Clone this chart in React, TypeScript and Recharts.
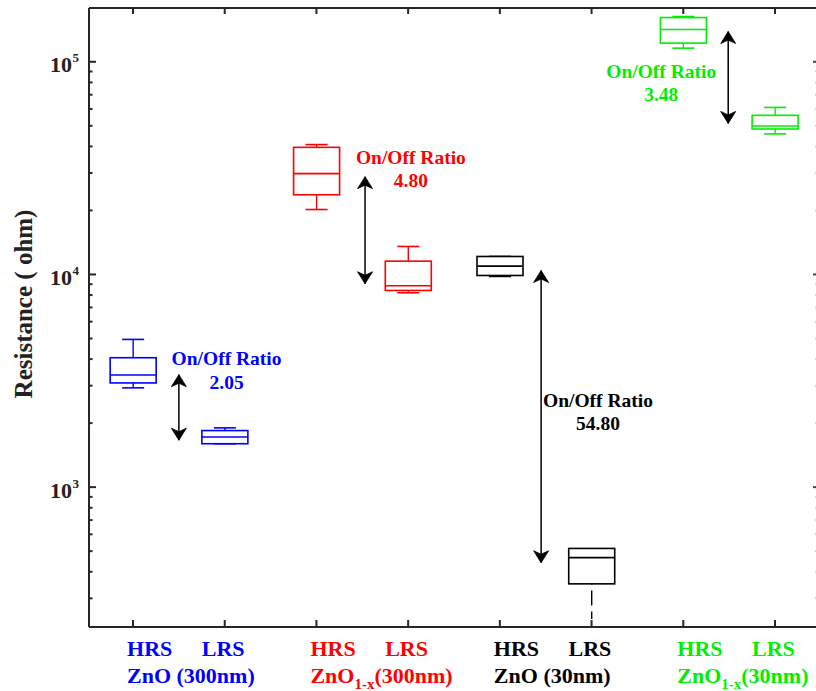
import React from 'react';
import { ComposedChart, Bar, Scatter, Line, XAxis, YAxis } from 'recharts';

// ---- data ----
const CATEGORIES = ['HRS', 'LRS', 'HRS', 'LRS', 'HRS', 'LRS', 'HRS', 'LRS'];
const GROUP_BASE = ['ZnO', 'ZnO', 'ZnO', 'ZnO'];
const GROUP_SUB = ['', '1-x', '', '1-x'];
const GROUP_TAIL = [' (300nm)', '(300nm)', ' (30nm)', '(30nm)'];

const WHISKER_MIN = [2930, 1600, 20200, 8200, 9790, 240, 115900, 45800];
const Q1 = [3090, 1600, 23700, 8410, 9890, 351, 122400, 48300];
const MEDIAN = [3370, 1720, 29800, 8850, 10940, 466, 141800, 49900];
const Q3 = [4060, 1845, 39600, 11550, 12150, 515, 161400, 56000];
const WHISKER_MAX = [4950, 1900, 40800, 13540, 12150, 515, 163200, 61000];

const ARROW_X = [1.5, 3.53, 5.45, 7.49];
const ARROW_HIGH = [3380, 28840, 10440, 138700];
const ARROW_LOW = [1663, 9040, 441, 51300];

const RATIO_TEXT = ['2.05', '4.80', '54.80', '3.48'];
const RATIO_LABEL_X = [2.02, 4.03, 6.07, 6.76];
const RATIO_LABEL_Y = [3740, 33080, 2382, 83850];

const X_TICKS = [1, 2, 3, 4, 5, 6, 7, 8];
const Y_TICKS = [
  300, 400, 500, 600, 700, 800, 900,
  1000, 2000, 3000, 4000, 5000, 6000, 7000, 8000, 9000,
  10000, 20000, 30000, 40000, 50000, 60000, 70000, 80000, 90000,
  100000,
];

// ---- styles ----
const GROUP_COLORS = ['#0000ff', '#ff0000', '#000000', '#00ee00'];
const WHISKER_DASHED = [false, false, false, false, false, true, false, false];
const FONT = '"Liberation Serif", "Times New Roman", serif';
const AXIS = '#262626';

const isMajor = (v: number) => {
  const l = Math.log10(v);
  return Math.abs(l - Math.round(l)) < 1e-6;
};

const BottomTick = (props: any) => {
  const { x, y, payload } = props;
  const i = Math.round(payload.value) - 1;
  const g = Math.floor(i / 2);
  const color = GROUP_COLORS[g];
  const isHRS = i % 2 === 0;
  const lx = isHRS ? x - 6 : x - 23;
  return (
    <g>
      <line x1={x} x2={x} y1={y} y2={y - 7} stroke={AXIS} strokeWidth={2} />
      <text x={lx} y={y + 29} fill={color} fontSize={22} fontWeight="bold" fontFamily={FONT}>
        {CATEGORIES[i]}
      </text>
      {isHRS && (
        <text x={lx} y={y + 56} fill={color} fontSize={22} fontWeight="bold" fontFamily={FONT}>
          {GROUP_BASE[g]}
          {GROUP_SUB[g] ? (
            <tspan fontSize={15} dy={6}>{GROUP_SUB[g]}</tspan>
          ) : null}
          <tspan fontSize={22} dy={GROUP_SUB[g] ? -6 : 0}>{GROUP_TAIL[g]}</tspan>
        </text>
      )}
    </g>
  );
};

const TopTick = (props: any) => {
  const { x, y } = props;
  return <line x1={x} x2={x} y1={y} y2={y + 6} stroke={AXIS} strokeWidth={2} />;
};

const LeftTick = (props: any) => {
  const { x, y, payload } = props;
  const v = payload.value;
  const major = isMajor(v);
  const exp = Math.round(Math.log10(v));
  return (
    <g>
      <line x1={x} x2={x + (major ? 7 : 3.5)} y1={y} y2={y} stroke={AXIS} strokeWidth={2} />
      {major && (
        <g>
          <text x={x - 17} y={y + 10.5} textAnchor="end" fontSize={22} fontWeight="bold" fontFamily={FONT} fill="#222">
            10
          </text>
          <text x={x - 16.5} y={y + 0.5} textAnchor="start" fontSize={13} fontWeight="bold" fontFamily={FONT} fill="#222">
            {String(exp)}
          </text>
        </g>
      )}
    </g>
  );
};

const RightTick = (props: any) => {
  const { x, y, payload } = props;
  const major = isMajor(payload.value);
  return (
    <line
      x1={x}
      x2={x - (major ? 6 : 3.5)}
      y1={y}
      y2={y}
      stroke={major ? '#444' : '#999'}
      strokeWidth={major ? 2 : 1.5}
    />
  );
};

const YTitle = () => (
  <text
    x={32}
    y={304}
    transform="rotate(-90 32 304)"
    textAnchor="middle"
    fontSize={25}
    fontWeight="bold"
    fontFamily={FONT}
    fill="#222"
  >
    Resistance ( ohm)
  </text>
);

const idxOf = (p: any) => {
  if (p && p.payload && typeof p.payload.x === 'number') return Math.round(p.payload.x) - 1;
  return p.index ?? 0;
};

const WhiskerShape = (p: any) => {
  const { x, y, width, height } = p;
  if (x == null || y == null) return null;
  const i = idxOf(p);
  const color = GROUP_COLORS[Math.floor(i / 2)];
  const cx = x + width / 2;
  const dashed = WHISKER_DASHED[i];
  return (
    <g>
      <line x1={cx} x2={cx} y1={y} y2={y + height} stroke={color} strokeWidth={1.4} strokeDasharray={dashed ? '15 6' : undefined} />
      {!dashed && <line x1={x} x2={x + width} y1={y} y2={y} stroke={color} strokeWidth={1.6} />}
      {!dashed && <line x1={x} x2={x + width} y1={y + height} y2={y + height} stroke={color} strokeWidth={1.6} />}
    </g>
  );
};

const BoxShape = (p: any) => {
  const { x, y, width, height } = p;
  if (x == null || y == null) return null;
  const i = idxOf(p);
  const color = GROUP_COLORS[Math.floor(i / 2)];
  return <rect x={x} y={y} width={width} height={height} fill="#ffffff" stroke={color} strokeWidth={1.6} />;
};

const MedianShape = (p: any) => {
  const { cx, cy } = p;
  if (cx == null || cy == null) return null;
  const i = Math.round(p.payload.x) - 1;
  const color = GROUP_COLORS[Math.floor(i / 2)];
  return <line x1={cx - 23} x2={cx + 23} y1={cy} y2={cy} stroke={color} strokeWidth={1.6} />;
};

const ArrowHead = (p: any) => {
  const { cx, cy, payload } = p;
  if (cx == null || cy == null || !payload || payload.y == null) return <g key={p.key} />;
  const s = payload.dir === 'up' ? 1 : -1;
  const d = `M${cx},${cy} L${cx + 7.5},${cy + s * 12} L${cx},${cy + s * 8.5} L${cx - 7.5},${cy + s * 12} Z`;
  return <path key={p.key ?? `${cx}-${cy}`} d={d} fill="#000" stroke="#000" strokeWidth={0.8} />;
};

const RatioLabel = (p: any) => {
  const { cx, cy, payload } = p;
  if (cx == null || cy == null) return null;
  const color = GROUP_COLORS[payload.g];
  return (
    <g>
      <text x={cx} y={cy} textAnchor="middle" fontSize={19.5} fontWeight="bold" fontFamily={FONT} fill={color}>
        On/Off Ratio
      </text>
      <text x={cx} y={cy + 23.4} textAnchor="middle" fontSize={19.5} fontWeight="bold" fontFamily={FONT} fill={color}>
        {payload.text}
      </text>
    </g>
  );
};

export default function App() {
  const rows = X_TICKS.map((x, i) => ({
    x,
    box: [Q1[i], Q3[i]],
    whisker: [WHISKER_MIN[i], WHISKER_MAX[i]],
  }));
  const medianRows = MEDIAN.map((y, i) => ({ x: X_TICKS[i], y }));
  const arrowRows: any[] = [];
  ARROW_X.forEach((x, i) => {
    arrowRows.push({ x, y: ARROW_HIGH[i], dir: 'up' });
    arrowRows.push({ x, y: ARROW_LOW[i], dir: 'down' });
    arrowRows.push({ x, y: null, dir: 'none' });
  });
  const ratioRows = RATIO_TEXT.map((t, i) => ({ x: RATIO_LABEL_X[i], y: RATIO_LABEL_Y[i], text: t, g: i }));

  const xCommon = {
    dataKey: 'x',
    type: 'number' as const,
    domain: [0.52, 8.48],
    allowDataOverflow: true,
    ticks: X_TICKS,
    interval: 0 as const,
    tickSize: 0,
    tickMargin: 0,
    tickLine: false,
    axisLine: { stroke: AXIS, strokeWidth: 2 },
  };
  const yCommon = {
    dataKey: 'y',
    type: 'number' as const,
    scale: 'log' as const,
    domain: [220, 179000],
    allowDataOverflow: true,
    ticks: Y_TICKS,
    interval: 0 as const,
    tickSize: 0,
    tickMargin: 0,
    tickLine: false,
  };

  return (
    <div style={{ position: 'absolute', left: 0, top: 0, width: 816, height: 691, overflow: 'hidden', background: '#fff' }}>
      <ComposedChart width={840} height={691} data={rows} margin={{ top: 0, right: 0, bottom: 0, left: 0 }}>
        <XAxis xAxisId="bottom" orientation="bottom" height={64} tick={<BottomTick />} {...xCommon} />
        <XAxis xAxisId="top" orientation="top" height={8} tick={<TopTick />} {...xCommon} />
        <XAxis xAxisId="free" orientation="bottom" hide {...xCommon} />
        <YAxis
          yAxisId="left"
          orientation="left"
          width={89}
          tick={<LeftTick />}
          axisLine={{ stroke: AXIS, strokeWidth: 2 }}
          label={<YTitle />}
          {...yCommon}
        />
        <YAxis
          yAxisId="right"
          orientation="right"
          width={21}
          tick={<RightTick />}
          axisLine={{ stroke: AXIS, strokeWidth: 2 }}
          {...yCommon}
        />
        <Bar xAxisId="top" yAxisId="left" dataKey="whisker" barSize={22} shape={(p: any) => <WhiskerShape {...p} />} isAnimationActive={false} />
        <Bar xAxisId="bottom" yAxisId="right" dataKey="box" barSize={46} shape={(p: any) => <BoxShape {...p} />} isAnimationActive={false} />
        <Scatter xAxisId="free" yAxisId="left" data={medianRows} shape={(p: any) => <MedianShape {...p} />} isAnimationActive={false} />
        <Line
          xAxisId="free"
          yAxisId="left"
          data={arrowRows}
          dataKey="y"
          stroke="#000"
          strokeWidth={1.5}
          dot={(p: any) => <ArrowHead {...p} />}
          activeDot={false}
          connectNulls={false}
          isAnimationActive={false}
        />
        <Scatter xAxisId="free" yAxisId="left" data={ratioRows} shape={(p: any) => <RatioLabel {...p} />} isAnimationActive={false} />
      </ComposedChart>
    </div>
  );
}
